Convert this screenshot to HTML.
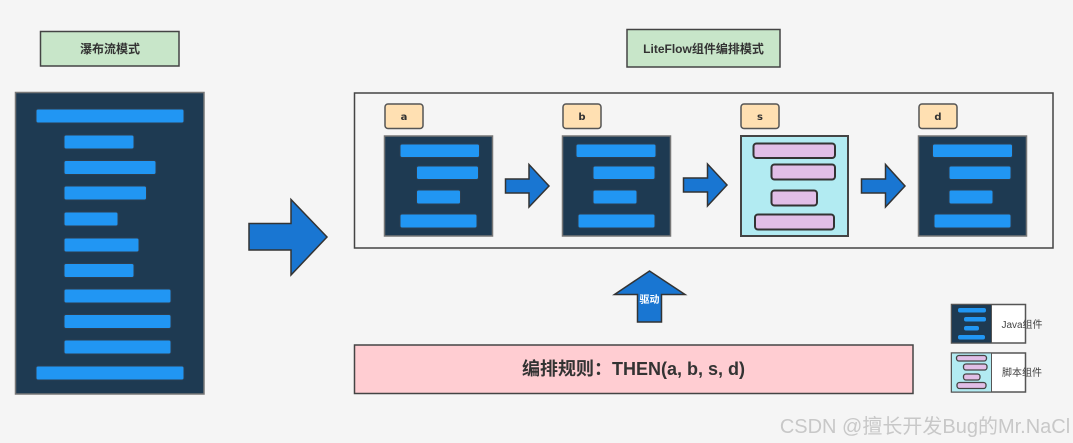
<!DOCTYPE html>
<html><head><meta charset="utf-8"><style>
html,body{margin:0;padding:0;background:#f5f5f5;width:1073px;height:443px;overflow:hidden}
svg{display:block}
text{font-family:"Liberation Sans","Noto Sans CJK SC",sans-serif;fill:#333;text-anchor:middle}
.dk{fill:#1e3a52;stroke:#777;stroke-width:1.5}
.bar{fill:#2196f3;stroke:#2c3e50;stroke-width:1}
.pur{fill:#e1bee7;stroke:#333;stroke-width:2}
.arr{fill:#1976d2;stroke:#333;stroke-width:1.5}
.lbl{fill:#ffe0b2;stroke:#555;stroke-width:1.5}
.let{font-family:"DejaVu Sans",sans-serif}
</style></head><body>
<svg width="1073" height="443" viewBox="0 0 1073 443" xmlns="http://www.w3.org/2000/svg">
<rect x="40.5" y="31.5" width="138.5" height="34.5" fill="#c8e6c9" stroke="#444" stroke-width="1.5"/>
<text x="110" y="53" font-size="12" font-weight="bold">瀑布流模式</text>
<rect x="627" y="29.5" width="153" height="37.5" fill="#c8e6c9" stroke="#444" stroke-width="1.5"/>
<text x="703.5" y="53" font-size="12" font-weight="bold">LiteFlow组件编排模式</text>

<rect class="dk" x="15.5" y="92.5" width="188.5" height="301.5"/>
<g class="bar">
<rect x="36" y="109" width="148" height="14" rx="2"/>
<rect x="64" y="135" width="70" height="14" rx="2"/>
<rect x="64" y="160.5" width="92" height="14" rx="2"/>
<rect x="64" y="186" width="82.500" height="14" rx="2"/>
<rect x="64" y="212" width="54" height="14" rx="2"/>
<rect x="64" y="238" width="75" height="14" rx="2"/>
<rect x="64" y="263.500" width="70" height="14" rx="2"/>
<rect x="64" y="289" width="107" height="14" rx="2"/>
<rect x="64" y="314.500" width="107" height="14" rx="2"/>
<rect x="64" y="340" width="107" height="14" rx="2"/>
<rect x="36" y="366" width="148" height="14" rx="2"/>
</g>

<polygon class="arr" points="249,223.500 291,223.500 291,199.500 327,237 291,275 291,250 249,250"/>

<rect x="354.500" y="93" width="698.500" height="155" fill="#f5f5f5" stroke="#444" stroke-width="1.5"/>

<rect class="lbl" x="385" y="104" width="38" height="24.500" rx="3"/>
<text class="let" x="404" y="120" font-size="10" font-weight="bold">a</text>
<rect class="lbl" x="563" y="104" width="38" height="24.500" rx="3"/>
<text class="let" x="582" y="120" font-size="10" font-weight="bold">b</text>
<rect class="lbl" x="741" y="104" width="38" height="24.500" rx="3"/>
<text class="let" x="760" y="120" font-size="10" font-weight="bold">s</text>
<rect class="lbl" x="919" y="104" width="38" height="24.500" rx="3"/>
<text class="let" x="938" y="120" font-size="10" font-weight="bold">d</text>

<rect class="dk" x="384.500" y="136" width="108" height="100"/>
<g class="bar">
<rect x="400" y="144" width="79.500" height="13.500" rx="2"/>
<rect x="416.500" y="166" width="62" height="13.500" rx="2"/>
<rect x="416.500" y="190" width="44" height="14" rx="2"/>
<rect x="400" y="214" width="77" height="14" rx="2"/>
</g>
<rect class="dk" x="562.500" y="136" width="108" height="100"/>
<g class="bar">
<rect x="576" y="144" width="80" height="13.500" rx="2"/>
<rect x="593" y="166" width="62" height="13.500" rx="2"/>
<rect x="593" y="190" width="44" height="14" rx="2"/>
<rect x="578" y="214" width="77" height="14" rx="2"/>
</g>
<rect x="741" y="136" width="107" height="100" fill="#b2ebf2" stroke="#444" stroke-width="2"/>
<g class="pur">
<rect x="753.500" y="143.500" width="81.500" height="14.500" rx="3"/>
<rect x="771.500" y="164.500" width="63.500" height="15" rx="3"/>
<rect x="771.500" y="190.500" width="45.500" height="15" rx="3"/>
<rect x="755" y="214.500" width="79" height="15" rx="3"/>
</g>
<rect class="dk" x="918.500" y="136" width="108" height="100"/>
<g class="bar">
<rect x="932.500" y="144" width="80" height="13.500" rx="2"/>
<rect x="949" y="166" width="62" height="13.500" rx="2"/>
<rect x="949" y="190" width="44" height="14" rx="2"/>
<rect x="934" y="214" width="77" height="14" rx="2"/>
</g>

<polygon class="arr" points="505.500,179 529,179 529,164.500 549,186 529,207 529,193 505.500,193"/>
<polygon class="arr" points="683.500,178 707.500,178 707.500,164 727,185 707.500,206 707.500,192 683.500,192"/>
<polygon class="arr" points="861.500,179 885.500,179 885.500,164.500 905,186 885.500,207 885.500,193 861.500,193"/>

<polygon class="arr" points="637.500,322 637.500,294.500 614.500,294.500 649.500,271 685,294.500 661.500,294.500 661.500,322"/>
<text x="649.500" y="303" font-size="10" font-weight="bold" style="fill:#fff">驱动</text>

<rect x="354.500" y="345" width="558.500" height="48.500" fill="#ffcdd2" stroke="#444" stroke-width="1.5"/>
<text x="633.500" y="375" font-size="18" font-weight="bold">编排规则：THEN(a, b, s, d)</text>

<rect x="951.500" y="304.500" width="74" height="38.500" fill="#fff" stroke="#555" stroke-width="1.5"/>
<rect x="951.500" y="304.500" width="40" height="38.500" fill="#1e3a52" stroke="#555" stroke-width="1"/>
<g fill="#2196f3">
<rect x="958" y="308" width="28" height="4.500" rx="2"/>
<rect x="964" y="317" width="22" height="4.500" rx="2"/>
<rect x="964" y="326" width="15" height="4.500" rx="2"/>
<rect x="958" y="335" width="27" height="4.500" rx="2"/>
</g>
<text x="1022" y="328" font-size="10" style="fill:#444">Java组件</text>

<rect x="951.500" y="353" width="74" height="39" fill="#fff" stroke="#555" stroke-width="1.5"/>
<rect x="951.500" y="353" width="40" height="39" fill="#b2ebf2" stroke="#555" stroke-width="1"/>
<g fill="#e1bee7" stroke="#444" stroke-width="1.3">
<rect x="956.500" y="355.500" width="30" height="5.500" rx="2.500"/>
<rect x="963.500" y="364" width="23.500" height="6" rx="2.500"/>
<rect x="963.500" y="374" width="16.500" height="6" rx="2.500"/>
<rect x="957" y="382.500" width="29" height="6" rx="2.500"/>
</g>
<text x="1022" y="376" font-size="10" style="fill:#444">脚本组件</text>

<text x="925" y="433" font-size="20" style="fill:#c8c8c8">CSDN @擅长开发Bug的Mr.NaCl</text>
</svg>
</body></html>
